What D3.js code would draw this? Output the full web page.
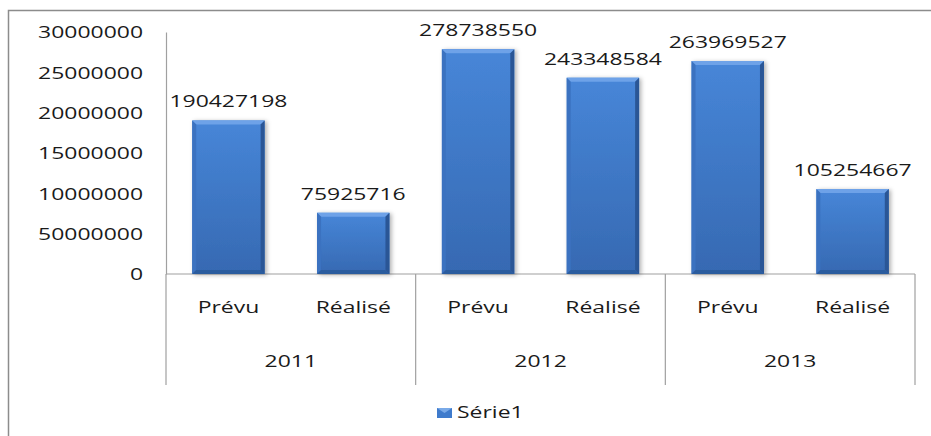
<!DOCTYPE html>
<html lang="fr">
<head>
  <meta charset="UTF-8">
  <title>Prévu / Réalisé 2011-2013</title>
  <style>
    * { margin: 0; padding: 0; }
    body { background: #fff; width: 931px; height: 436px; overflow: hidden; }
    svg { display: block; font-family: 'Open Sans', sans-serif; }
    .lbl { font-size: 17px; fill: #1a1a1a; }
  </style>
  <script src="https://cdn.jsdelivr.net/npm/d3@7/dist/d3.min.js"></script>
</head>
<body>
  <svg id="chart" width="931" height="436"></svg>
  <script>
    const years = ['2011', '2012', '2013'];
    const kinds = ['Prévu', 'Réalisé'];
    const values = [190427198, 75925716, 278738550, 243348584, 263969527, 105254667];
    const tickValues = [0, 50000000, 100000000, 150000000, 200000000, 250000000, 300000000];
    const tickLabels = ['0', '50000000', '10000000', '15000000', '20000000', '25000000', '30000000'];
    const seriesName = 'Série1';

    const SX = 1.35; // the source picture is stretched horizontally
    const svg = d3.select('#chart');
    const plotLeft = 166, plotRight = 915, plotTop = 32, base = 274, catBottom = 385;

    // one row per bar
    const rows = [];
    years.forEach((yr, i) => kinds.forEach((k, j) => rows.push({ id: yr + '-' + k, year: yr, kind: k, value: values[i * 2 + j] })));

    const x = d3.scaleBand().domain(rows.map(d => d.id)).range([plotLeft, plotRight]).paddingInner(0.42).paddingOuter(0.21);
    const xYear = d3.scaleBand().domain(years).range([plotLeft, plotRight]);
    const y = d3.scaleLinear().domain([0, 300000000]).range([base, plotTop]);

    const defs = svg.append('defs');
    const face = defs.append('linearGradient').attr('id', 'face').attr('x1', 0).attr('y1', 0).attr('x2', 0).attr('y2', 1);
    face.append('stop').attr('offset', '0%').attr('stop-color', '#4786d8');
    face.append('stop').attr('offset', '100%').attr('stop-color', '#3669b2');
    const shadow = defs.append('filter').attr('id', 'shadow').attr('x', '-20%').attr('y', '-20%').attr('width', '150%').attr('height', '150%');
    shadow.append('feDropShadow').attr('dx', 2).attr('dy', 1).attr('stdDeviation', 2)
      .attr('flood-color', '#000').attr('flood-opacity', 0.3);

    // outer frame
    svg.append('rect').attr('x', 8.5).attr('y', 10.5).attr('width', 940).attr('height', 440)
      .attr('fill', 'none').attr('stroke', '#8c8c8c').attr('stroke-width', 1.5);

    function stretchText(g, tx, ty, txt, anchor) {
      return g.append('text').attr('class', 'lbl')
        .attr('transform', `translate(${tx},${ty}) scale(${SX},1)`)
        .attr('text-anchor', anchor || 'middle').text(txt);
    }

    // y axis
    const yAxis = svg.append('g').attr('transform', `translate(${plotLeft},0)`)
      .call(d3.axisLeft(y).tickValues(tickValues).tickSize(0).tickPadding(0)
        .tickFormat((d, i) => tickLabels[i]));
    yAxis.select('.domain').attr('stroke', '#a0a0a0').attr('stroke-width', 1.2);
    yAxis.selectAll('.tick text').attr('class', 'lbl').attr('font-size', null).attr('font-family', null)
      .attr('x', -23 / SX).attr('dy', '0.35em').attr('transform', `scale(${SX},1)`).attr('fill', '#1a1a1a');
    yAxis.attr('font-size', null).attr('font-family', null);

    // category axis lines
    const axisG = svg.append('g');
    axisG.append('line').attr('x1', plotLeft).attr('x2', plotRight).attr('y1', base).attr('y2', base)
      .attr('stroke', '#a0a0a0').attr('stroke-width', 1.2);
    axisG.selectAll('line.sep').data(years.concat(['end'])).join('line').attr('class', 'sep')
      .attr('x1', (d, i) => i < years.length ? xYear(d) : plotRight)
      .attr('x2', (d, i) => i < years.length ? xYear(d) : plotRight)
      .attr('y1', base).attr('y2', catBottom)
      .attr('stroke', '#a0a0a0').attr('stroke-width', 1.2);

    // bars with bevel
    const b = 4;
    const bars = svg.append('g').selectAll('g').data(rows).join('g').attr('filter', 'url(#shadow)');
    bars.each(function (d) {
      const g = d3.select(this);
      const x0 = x(d.id), w = x.bandwidth(), y0 = y(d.value), h = base - y0;
      g.append('rect').attr('x', x0).attr('y', y0).attr('width', w).attr('height', h).attr('fill', 'url(#face)');
      const poly = (pts, c) => g.append('polygon').attr('points', pts.map(p => p.join(',')).join(' ')).attr('fill', c);
      poly([[x0, y0], [x0 + w, y0], [x0 + w - b, y0 + b], [x0 + b, y0 + b]], '#6ea2e8');
      poly([[x0, y0], [x0 + b, y0 + b], [x0 + b, base - b], [x0, base]], '#3b72c0');
      poly([[x0 + w, y0], [x0 + w - b, y0 + b], [x0 + w - b, base - b], [x0 + w, base]], '#2a5796');
      poly([[x0, base], [x0 + b, base - b], [x0 + w - b, base - b], [x0 + w, base]], '#2c5b9e');
    });

    // value labels
    const valG = svg.append('g');
    rows.forEach(d => stretchText(valG, x(d.id) + x.bandwidth() / 2, y(d.value) - 13, String(d.value)));

    // category labels
    const catG = svg.append('g');
    rows.forEach(d => stretchText(catG, x(d.id) + x.bandwidth() / 2, 312.5, d.kind));
    years.forEach(yr => stretchText(catG, xYear(yr) + xYear.bandwidth() / 2, 367, yr));

    // legend
    const leg = svg.append('g');
    leg.append('rect').attr('x', 437).attr('y', 408).attr('width', 15).attr('height', 10).attr('fill', '#3f7bcc');
    leg.append('polygon').attr('points', '437,408 452,408 444.5,413').attr('fill', '#7aaae8');
    stretchText(leg, 457, 418, seriesName, 'start');
  </script>
</body>
</html>
